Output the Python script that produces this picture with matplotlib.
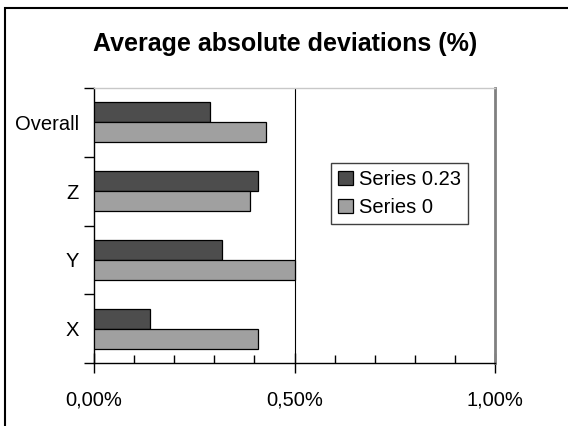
import numpy as np
import matplotlib.pyplot as plt
from matplotlib.patches import Rectangle
from matplotlib.ticker import FuncFormatter, MultipleLocator, FixedLocator

plt.rcParams['font.family'] = ['Liberation Sans', 'DejaVu Sans']

# Datos (desviaciones absolutas medias, en %)
categorias = ['X', 'Y', 'Z', 'Overall']
serie_023 = [0.14, 0.32, 0.41, 0.29]
serie_0 = [0.41, 0.50, 0.39, 0.43]
nombres_series = ['Series 0.23', 'Series 0']
xticks = [0.0, 0.5, 1.0]

color_oscuro = '#4d4d4d'
color_claro = '#a0a0a0'

fig = plt.figure(figsize=(5.68, 4.26), dpi=100)
ax = fig.add_axes([94 / 568, 63 / 426, 401 / 568, 275 / 426])

y = np.arange(len(categorias))
alto = 0.29
ax.barh(y + alto / 2, serie_023, height=alto, color=color_oscuro,
        edgecolor='black', linewidth=0.9, label=nombres_series[0], zorder=3)
ax.barh(y - alto / 2, serie_0, height=alto, color=color_claro,
        edgecolor='black', linewidth=0.9, label=nombres_series[1], zorder=3)

ax.set_xlim(0, 1.0)
ax.set_ylim(-0.5, len(categorias) - 0.5)

# Eje x: marcas principales cruzadas y secundarias hacia dentro
ax.xaxis.set_major_locator(FixedLocator(xticks))
ax.xaxis.set_minor_locator(MultipleLocator(0.1))
ax.xaxis.set_major_formatter(FuncFormatter(lambda v, p: f'{v:.2f}%'.replace('.', ',')))
ax.tick_params(axis='x', which='major', direction='inout', length=14, width=1,
               pad=13, labelsize=14.5)
ax.tick_params(axis='x', which='minor', direction='in', length=6, width=1)

# Eje y: etiquetas centradas, marcas entre categorias
ax.set_yticks(y)
ax.set_yticklabels(categorias)
ax.yaxis.set_minor_locator(FixedLocator(np.arange(-0.5, len(categorias), 1.0)))
ax.tick_params(axis='y', which='major', length=0, pad=11, labelsize=14.5)
ax.tick_params(axis='y', which='minor', direction='out', length=7, width=1)

ax.axvline(0.5, color='black', linewidth=0.8, zorder=1)
ax.spines['left'].set_linewidth(1)
ax.spines['bottom'].set_linewidth(1)
ax.spines['top'].set_color('#c8c8c8')
ax.spines['top'].set_linewidth(1)
ax.spines['right'].set_color('#808080')
ax.spines['right'].set_linewidth(2)

fig.text(285 / 568, 1 - 44 / 426, 'Average absolute deviations (%)',
         ha='center', va='center', fontsize=18, fontweight='bold')

ax.legend(loc='upper left', bbox_to_anchor=(331 / 568, 1 - 163 / 426),
          bbox_transform=fig.transFigure, fontsize=14.5, frameon=True,
          fancybox=False, edgecolor='#404040', framealpha=1,
          handlelength=0.75, handleheight=0.75, handletextpad=0.3,
          borderpad=0.35, labelspacing=0.45, borderaxespad=0)

# Marco exterior del grafico
fig.patches.append(Rectangle((5 / 568, -0.1), 1.0, 1 - 8 / 426 + 0.1,
                             transform=fig.transFigure, fill=False,
                             edgecolor='black', linewidth=1.5))

fig.savefig('out.png', dpi=100)
